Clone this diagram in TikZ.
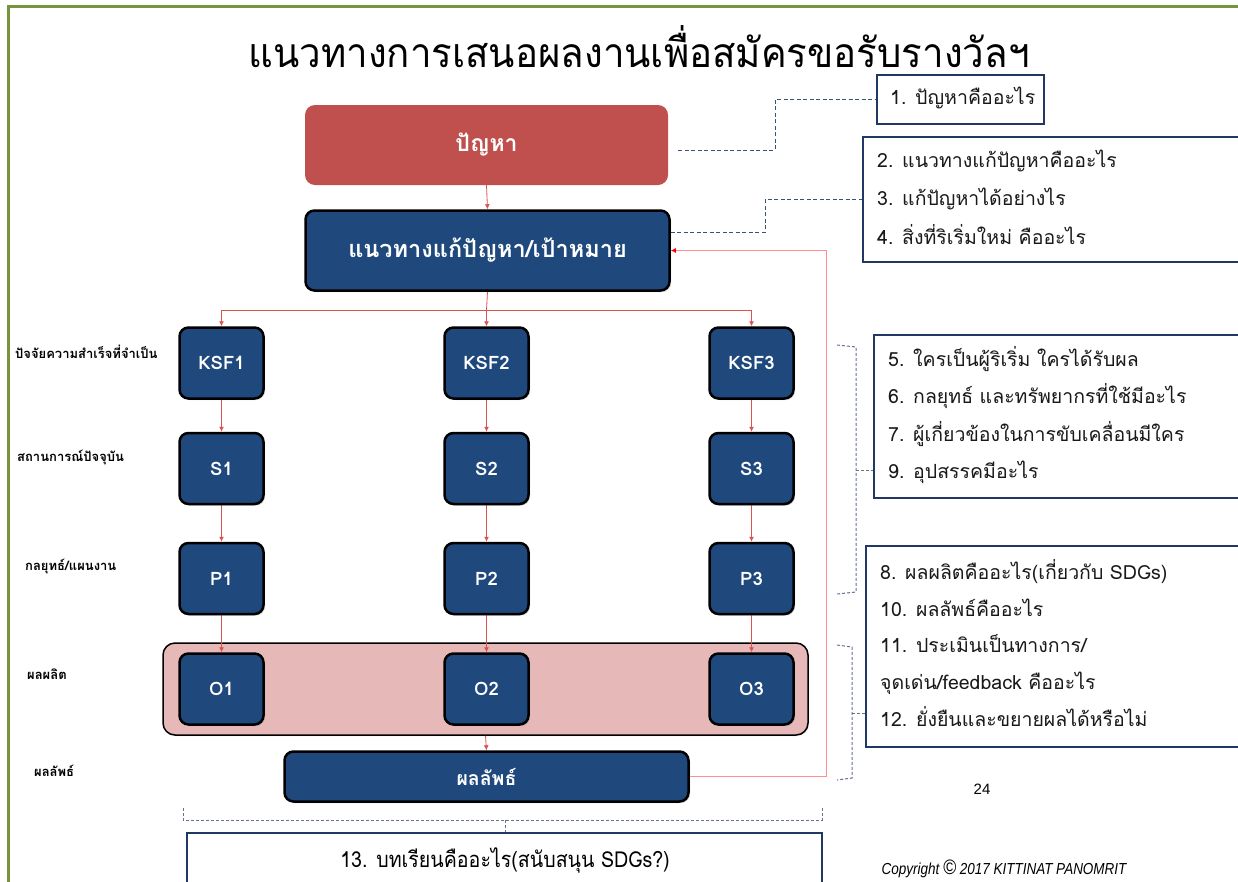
\documentclass[tikz,border=0pt]{standalone}
\usepackage{fontspec}
\usepackage{graphicx}
\setmainfont{Liberation Sans}
\newfontfamily\thai[Script=Thai]{Loma}
\usetikzlibrary{arrows.meta,shadows}
\definecolor{dblue}{HTML}{1F497D}
\definecolor{pred}{HTML}{C0504D}
\definecolor{pinkbg}{HTML}{E6B9B8}
\definecolor{arrred}{HTML}{D9534F}
\definecolor{fbred}{HTML}{FF8F8F}
\definecolor{dashc}{HTML}{3A5278}
\definecolor{navy}{HTML}{1F3864}
\definecolor{frameg}{HTML}{77933C}
\pgfdeclarelayer{bgl}
\pgfdeclarelayer{conl}
\pgfsetlayers{bgl,conl,main}
\tikzset{
  blk/.style={draw=black, line width=2.5pt, fill=dblue, rounded corners=9pt,
    text=white, inner sep=0pt, font=\thai\bfseries\fontsize{18.5}{22}\selectfont,
    drop shadow={shadow xshift=1.5pt, shadow yshift=-1.5pt, opacity=0.35}},
  sq/.style={blk, minimum width=84pt, minimum height=71pt},
  probbox/.style={fill=pred, rounded corners=10pt, text=white, inner sep=0pt,
    minimum width=363pt, minimum height=80pt, font=\thai\bfseries\fontsize{23}{26}\selectfont},
  qbox/.style={draw=navy, line width=1.4pt, fill=white, inner sep=0pt},
  ql/.style={anchor=west, inner sep=0pt, text height=13pt, text depth=4pt,
    font=\thai\fontsize{19.5}{22}\selectfont, text=black!90},
  lbl/.style={anchor=west, inner sep=0pt, text height=9pt, text depth=3pt,
    font=\thai\bfseries\fontsize{13}{15}\selectfont},
  arr/.style={draw=arrred, line width=0.8pt, -{Latex[length=5pt,width=5pt]}},
  rline/.style={draw=arrred, line width=0.8pt},
  dashcon/.style={draw=dashc, line width=1pt, dash pattern=on 4pt off 2.5pt},
  brk/.style={draw=dashc!80, line width=1pt, dash pattern=on 3pt off 2pt},
}
\begin{document}
\begin{tikzpicture}[x=1pt,y=-1pt]
\clip (0,0) rectangle (1238,881);
\begin{pgfonlayer}{bgl}
  \fill[white] (0,0) rectangle (1238,881);
  \draw[frameg, line width=3pt] (8,890) -- (8,6) -- (1245,6);
  \node[draw=black, line width=1.5pt, fill=pinkbg, rounded corners=12pt,
        minimum width=645pt, minimum height=92pt, inner sep=0pt,
        drop shadow={shadow xshift=1pt, shadow yshift=-1pt, opacity=0.3}] (obox) at (485.5,689) {};
\end{pgfonlayer}

% title
\node[inner sep=0pt, font=\thai\fontsize{34}{40}\selectfont] (title) at (639,47)
  {\scalebox{1.13}[1.2]{แนวทางการเสนอผลงานเพื่อสมัครขอรับรางวัลฯ}};

% main boxes
\node[probbox] (prob) at (486.5,145) {ปัญหา};
\node[blk, minimum width=364pt, minimum height=80pt, font=\thai\bfseries\fontsize{23.5}{26}\selectfont] (sol) at (487.5,250.5) {แนวทางแก้ปัญหา/เป้าหมาย};

\node[sq] (k1) at (221.5,363) {KSF1};
\node[sq] (k2) at (486.5,363) {KSF2};
\node[sq] (k3) at (751.5,363) {KSF3};
\node[sq] (s1) at (221.5,468.5) {S1};
\node[sq] (s2) at (486.5,468.5) {S2};
\node[sq] (s3) at (751.5,468.5) {S3};
\node[sq] (p1) at (221.5,578.5) {P1};
\node[sq] (p2) at (486.5,578.5) {P2};
\node[sq] (p3) at (751.5,578.5) {P3};
\node[sq] (o1) at (221.5,689) {O1};
\node[sq] (o2) at (486.5,689) {O2};
\node[sq] (o3) at (751.5,689) {O3};
\node[blk, minimum width=404pt, minimum height=50pt, font=\thai\bfseries\fontsize{19.5}{22}\selectfont] (res) at (486.5,776.5) {ผลลัพธ์};

% left labels
\node[lbl] (l1) at (15,355) {ปัจจัยความสำเร็จที่จำเป็น};
\node[lbl] (l2) at (17,458) {สถานการณ์ปัจจุบัน};
\node[lbl] (l3) at (25,567) {กลยุทธ์/แผนงาน};
\node[lbl] (l4) at (27,676) {ผลผลิต};
\node[lbl] (l5) at (34,773) {ผลลัพธ์};

% connectors
\coordinate (j) at (486.5,310);
\coordinate (fbx) at (826,500);
\begin{pgfonlayer}{conl}
  \draw[arr] (prob.south) -- (sol.north);
  \draw[rline] (sol.south) -- (j);
  \draw[arr] (j) -| (k1.north);
  \draw[arr] (j) -- (k2.north);
  \draw[arr] (j) -| (k3.north);
  \foreach \c in {1,2,3}{
    \draw[arr] (k\c.south) -- (s\c.north);
    \draw[arr] (s\c.south) -- (p\c.north);
    \draw[arr] (p\c.south) -- (o\c.north);
  }
  \draw[arr] (obox.south) -- (res.north);
  \draw[draw=fbred, line width=1pt, -{Latex[length=5pt,width=5pt,fill=red,color=red]}]
    (res.east) -| (fbx) |- (sol.east);
\end{pgfonlayer}

% question boxes
\node[qbox, minimum width=167pt, minimum height=49pt] (q1) at (960.5,99.5) {};
\node[qbox, minimum width=387pt, minimum height=125pt] (q2) at (1056.5,199.5) {};
\node[qbox, minimum width=376pt, minimum height=163pt] (q3) at (1062,416.5) {};
\node[qbox, minimum width=384pt, minimum height=201pt] (q4) at (1058,646.5) {};
\node[qbox, minimum width=635pt, minimum height=67pt] (q13) at (504.5,866.5) {};

\node[ql] (t1) at (890,100) {1. ปัญหาคืออะไร};
\node[ql] (t2) at (877,163) {2. แนวทางแก้ปัญหาคืออะไร};
\node[ql] (t3) at (877,201) {3. แก้ปัญหาได้อย่างไร};
\node[ql] (t4) at (877,240) {4. สิ่งที่ริเริ่มใหม่ คืออะไร};
\node[ql] (t5) at (888,362) {5. ใครเป็นผู้ริเริ่ม ใครได้รับผล};
\node[ql] (t6) at (888,399) {6. กลยุทธ์ และทรัพยากรที่ใช้มีอะไร};
\node[ql] (t7) at (888,437) {7. ผู้เกี่ยวข้องในการขับเคลื่อนมีใคร};
\node[ql] (t9) at (888,474) {9. อุปสรรคมีอะไร};
\node[ql] (t8) at (880,575) {8. ผลผลิตคืออะไร(เกี่ยวกับ SDGs)};
\node[ql] (t10) at (880,612) {10. ผลลัพธ์คืออะไร};
\node[ql] (t11) at (880,648) {11. ประเมินเป็นทางการ/};
\node[ql] (t11b) at (880,685) {จุดเด่น/feedback คืออะไร};
\node[ql] (t12) at (880,722) {12. ยั่งยืนและขยายผลได้หรือไม่};
\node[inner sep=0pt, font=\thai\fontsize{20}{24}\selectfont] (t13) at (505,860)
  {\scalebox{0.98}[1.1]{13. บทเรียนคืออะไร(สนับสนุน SDGs?)}};

% dashed connectors
\coordinate (c1) at (775,120);
\coordinate (c2) at (765,215);
\draw[dashcon] ([xshift=10pt,yshift=-5pt]prob.east) -| (c1) |- (q1.west);
\draw[dashcon] ([yshift=18pt]sol.east) -| (c2) |- (q2.west);

% brackets
\coordinate (b1a) at (837,345);
\coordinate (b1m) at (856,470);
\coordinate (b1b) at (837,594);
\draw[brk] (b1a) -- (856,347) -- (856,592) -- (b1b);
\draw[brk] (b1m) -- (q3.west |- b1m);
\coordinate (b2a) at (837,645);
\coordinate (b2m) at (852,713);
\coordinate (b2b) at (837,780);
\draw[brk] (b2a) -- (852,647) -- (852,778) -- (b2b);
\draw[brk] (b2m) -- (q4.west |- b2m);
\coordinate (b3a) at (183,808);
\coordinate (b3m) at (505,820);
\coordinate (b3b) at (822,808);
\draw[brk] (b3a) -- (183,820) -- (822,820) -- (b3b);
\draw[brk] (b3m) -- (q13.north -| b3m);

% misc text
\node[inner sep=0pt, font=\fontsize{15}{18}\selectfont] (pg) at (982,789) {24};
\node[inner sep=0pt, font=\itshape\fontsize{14.5}{16}\selectfont] (copy) at (1004,869)
  {\scalebox{0.93}[1.1]{Copyright {\fontsize{19}{19}\selectfont\textcopyright} 2017 KITTINAT PANOMRIT}};
\end{tikzpicture}
\end{document}
